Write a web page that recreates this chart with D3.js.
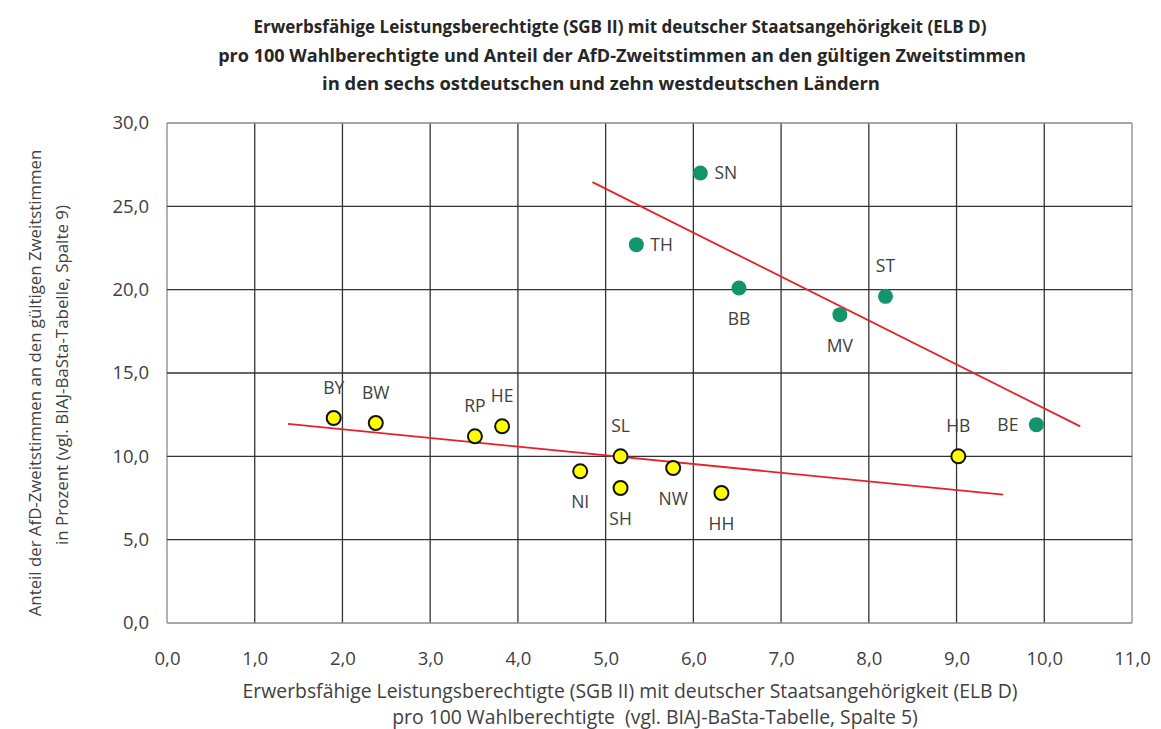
<!DOCTYPE html>
<html><head><meta charset="utf-8">
<script src="https://cdn.jsdelivr.net/npm/d3@7"></script>
<style>body{margin:0;background:#fff;} svg{display:block;} text{white-space:pre;}</style>
</head><body>
<svg id="c" width="1161" height="729"></svg>
<script>
// ---- data ----
const westCodes = ["BY","BW","RP","HE","NI","SL","SH","NW","HH","HB"];
const westX = [1.90, 2.38, 3.51, 3.82, 4.71, 5.17, 5.17, 5.77, 6.32, 9.02];
const westY = [12.3, 12.0, 11.2, 11.8, 9.1, 10.0, 8.1, 9.3, 7.8, 10.0];
const eastCodes = ["SN","TH","BB","MV","ST","BE"];
const eastX = [6.08, 5.35, 6.52, 7.67, 8.19, 9.91];
const eastY = [27.0, 22.7, 20.1, 18.5, 19.6, 11.9];
const westTrendX = [1.38, 9.53];
const westTrendY = [11.95, 7.70];
const eastTrendX = [4.85, 10.41];
const eastTrendY = [26.45, 11.80];
const xTicks = [0,1,2,3,4,5,6,7,8,9,10,11];
const yTicks = [0,5,10,15,20,25,30];
const titleLines = [
  "Erwerbsfähige Leistungsberechtigte (SGB II) mit deutscher Staatsangehörigkeit (ELB D)",
  "pro 100 Wahlberechtigte und Anteil der AfD-Zweitstimmen an den gültigen Zweitstimmen",
  "in den sechs ostdeutschen und zehn westdeutschen Ländern"];
const xTitleLines = [
  "Erwerbsfähige Leistungsberechtigte (SGB II) mit deutscher Staatsangehörigkeit (ELB D)",
  "pro 100 Wahlberechtigte  (vgl. BIAJ-BaSta-Tabelle, Spalte 5)"];
const yTitleLines = [
  "Anteil der AfD-Zweitstimmen an den gültigen Zweitstimmen",
  "in Prozent (vgl. BIAJ-BaSta-Tabelle, Spalte 9)"];

// label placement (layout config)
const labelSide = {BY:"above",BW:"above",RP:"above",HE:"above",NI:"below",SL:"above",SH:"below",
  NW:"below",HH:"below",HB:"above",SN:"right",TH:"right",BB:"below",MV:"below",ST:"above",BE:"left"};

// ---- chart ----
const svg = d3.select("#c");
const font = "'Open Sans', Lato, sans-serif";
const pL = 167, pR = 1132, pT = 123, pB = 623;
const x = d3.scaleLinear().domain([0,11]).range([pL,pR]);
const y = d3.scaleLinear().domain([0,30]).range([pB,pT]);
const textCol = "#404040";

function fit(sel, widths){
  sel.each(function(d,i){
    const w = this.getComputedTextLength();
    const fs = parseFloat(this.getAttribute("font-size"));
    this.setAttribute("font-size", (fs*widths[i]/w).toFixed(2));
  });
}

// title
const tt = svg.append("g").selectAll("text").data(titleLines).join("text")
  .attr("x",(d,i)=>[620,622,601][i]).attr("y",(d,i)=>33+i*28.5)
  .attr("text-anchor","middle").attr("font-family",font).attr("font-weight","bold")
  .attr("font-size",16).attr("fill","#262626").text(d=>d);
fit(tt,[733,808,558]);

// grid
const grid = svg.append("g");
grid.selectAll("line.v").data(xTicks).join("line").attr("class","v")
  .attr("x1",d=>x(d)).attr("x2",d=>x(d)).attr("y1",pT).attr("y2",pB)
  .attr("stroke",(d,i)=> (i===0||i===xTicks.length-1)?"#8a8a8a":"#333").attr("stroke-width",1.3);
grid.selectAll("line.h").data(yTicks).join("line").attr("class","h")
  .attr("y1",d=>y(d)).attr("y2",d=>y(d)).attr("x1",pL).attr("x2",pR)
  .attr("stroke",(d,i)=> (i===0||i===yTicks.length-1)?"#8a8a8a":"#333").attr("stroke-width",1.3);

// axes
const fmt = d=>d3.format(".1f")(d).replace(".",",");
const xa = svg.append("g").attr("transform",`translate(0,${pB})`)
  .call(d3.axisBottom(x).tickValues(xTicks).tickFormat(fmt).tickSize(0).tickPadding(29));
const ya = svg.append("g").attr("transform",`translate(${pL},0)`)
  .call(d3.axisLeft(y).tickValues(yTicks).tickFormat(fmt).tickSize(0).tickPadding(18));
[xa,ya].forEach(a=>{a.select(".domain").remove();
  a.selectAll("text").attr("font-family",font).attr("font-size",18.5).attr("fill",textCol);});

// axis titles
const xt = svg.append("g").selectAll("text").data(xTitleLines).join("text")
  .attr("x",(d,i)=>[630,655][i]).attr("y",(d,i)=>698+i*25.5).attr("text-anchor","middle")
  .attr("font-family",font).attr("font-size",16).attr("fill",textCol).text(d=>d);
fit(xt.filter((d,i)=>i===0),[775]);
xt.filter((d,i)=>i===1).attr("font-size", xt.filter((d,i)=>i===0).attr("font-size"));
const yt = svg.append("g").selectAll("text").data(yTitleLines).join("text")
  .attr("transform",(d,i)=>`translate(${41+i*27},${[383,375][i]}) rotate(-90)`).attr("text-anchor","middle")
  .attr("font-family",font).attr("font-size",15).attr("fill",textCol).text(d=>d);
fit(yt,[467,340]);

// trend lines
const line = d3.line().x(d=>x(d[0])).y(d=>y(d[1]));
[[westTrendX,westTrendY],[eastTrendX,eastTrendY]].forEach(([tx,ty])=>{
  svg.append("path").attr("d",line(d3.zip(tx,ty))).attr("fill","none")
    .attr("stroke","#e8202a").attr("stroke-width",1.8);
});

// points
const west = westCodes.map((c,i)=>({c,x:westX[i],y:westY[i]}));
const east = eastCodes.map((c,i)=>({c,x:eastX[i],y:eastY[i]}));
svg.append("g").selectAll("circle").data(west).join("circle")
  .attr("cx",d=>x(d.x)).attr("cy",d=>y(d.y)).attr("r",7)
  .attr("fill","#ffff00").attr("stroke","#111").attr("stroke-width",2);
svg.append("g").selectAll("circle").data(east).join("circle")
  .attr("cx",d=>x(d.x)).attr("cy",d=>y(d.y)).attr("r",7.5)
  .attr("fill","#13956b");

// labels
const all = west.concat(east);
svg.append("g").selectAll("text").data(all).join("text")
  .attr("x",d=>{const s=labelSide[d.c], px=x(d.x);
     return s==="right"?px+14:s==="left"?px-18:px;})
  .attr("y",d=>{const s=labelSide[d.c], py=y(d.y);
     return s==="above"?py-24:s==="below"?py+37:py+6;})
  .attr("text-anchor",d=>{const s=labelSide[d.c];return s==="right"?"start":s==="left"?"end":"middle";})
  .attr("font-family",font).attr("font-size",17.5).attr("fill",textCol).text(d=>d.c);
</script>
</body></html>
